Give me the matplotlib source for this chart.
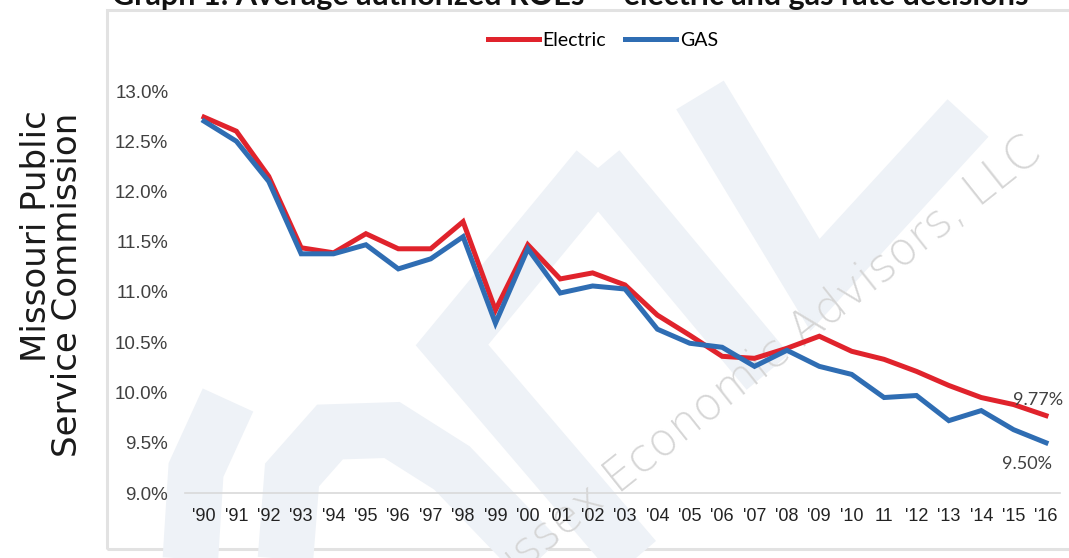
import matplotlib
matplotlib.use("Agg")
import matplotlib.pyplot as plt
from matplotlib.lines import Line2D
from matplotlib.patches import Rectangle

# Average authorized ROE by year, electric vs gas rate decisions
years = ["'90", "'91", "'92", "'93", "'94", "'95", "'96", "'97", "'98", "'99",
         "'00", "'01", "'02", "'03", "'04", "'05", "'06", "'07", "'08", "'09",
         "'10", "11", "'12", "'13", "'14", "'15", "'16"]
electric = [12.74, 12.60, 12.15, 11.44, 11.39, 11.58, 11.43, 11.43, 11.70, 10.82,
            11.47, 11.13, 11.19, 11.07, 10.77, 10.57, 10.36, 10.34, 10.44, 10.56,
            10.41, 10.33, 10.21, 10.07, 9.95, 9.88, 9.77]
gas = [12.70, 12.50, 12.10, 11.38, 11.38, 11.47, 11.23, 11.33, 11.55, 10.69,
       11.43, 10.99, 11.06, 11.03, 10.63, 10.49, 10.45, 10.26, 10.42, 10.26,
       10.18, 9.95, 9.97, 9.72, 9.82, 9.63, 9.50]
y_ticks = [9.0, 9.5, 10.0, 10.5, 11.0, 11.5, 12.0, 12.5, 13.0]

W, H = 1069, 558
RED = "#e0232c"
BLUE = "#2f6db3"
TXT = "#404040"


def px(x, y):
    # pixel position (from top-left) -> figure fraction
    return x / W, 1 - y / H


fig = plt.figure(figsize=(W / 100, H / 100), dpi=100)
fig.patch.set_facecolor("white")

# frame around the chart
fig.add_artist(Rectangle(px(107, 549), (W - 100) / W, 539 / H,
                         transform=fig.transFigure, fill=False,
                         edgecolor="#e2e2e2", lw=2.2, zorder=-3))

# faint logo watermark behind the plot
wm = "#eef2f7"
shapes = [
    [(700, 95), (815, 285), (968, 118)],
    [(598, 168), (452, 345), (640, 565)],
    [(598, 168), (768, 372)],
    [(285, 565), (292, 475), (330, 432), (392, 430), (452, 468), (545, 565)],
    [(228, 400), (196, 470), (190, 565)],
]
for pts in shapes:
    xs = [p[0] / W for p in pts]
    ys = [1 - p[1] / H for p in pts]
    fig.add_artist(Line2D(xs, ys, transform=fig.transFigure, color=wm,
                          lw=40, solid_joinstyle="miter",
                          solid_capstyle="butt", zorder=-2))

fig.text(*px(1036, 146), "Sussex Economic Advisors, LLC", rotation=38.5,
         rotation_mode="anchor", ha="right", va="center", fontsize=33,
         family="DejaVu Sans", fontweight="light", color="#d6d6d6", zorder=-1)

ax = fig.add_axes([185 / W, 1 - 493 / H, 875 / W, 402 / H])
ax.set_facecolor("none")

x = list(range(len(years)))
ax.plot(x, electric, color=RED, lw=3.6, solid_joinstyle="miter", label="Electric")
ax.plot(x, gas, color=BLUE, lw=3.6, solid_joinstyle="miter", label="GAS")

ax.set_xlim(-19 / 32.385, 26 + 14 / 32.385)
ax.set_ylim(9.0, 13.0)

ax.set_yticks(y_ticks)
ax.set_yticklabels([f"{v:.1f}%" for v in y_ticks])
ax.set_xticks(x)
ax.set_xticklabels(years)

for s in ["top", "right", "left"]:
    ax.spines[s].set_visible(False)
ax.spines["bottom"].set_color("#d9d9d9")
ax.spines["bottom"].set_linewidth(1.2)

ax.tick_params(axis="both", length=0)
ax.tick_params(axis="y", pad=12, labelsize=13.5, labelcolor=TXT)
ax.tick_params(axis="x", pad=11, labelsize=13, labelcolor="#222222")
for lab in ax.get_yticklabels():
    lab.set_family("Liberation Sans")
for lab in ax.get_xticklabels():
    lab.set_family(["Liberation Sans Narrow", "Liberation Sans"])

# end-of-series labels
ax.annotate(f"{electric[-1]:.2f}%", (x[-1], electric[-1]), xytext=(-6, 11),
            textcoords="offset points", ha="center", va="center",
            fontsize=13, family="Lato", color=TXT)
ax.annotate(f"{gas[-1]:.2f}%", (x[-1], gas[-1]), xytext=(-14, -15),
            textcoords="offset points", ha="center", va="center",
            fontsize=13, family="Lato", color=TXT)

fig.legend(handles=ax.get_lines(), labels=["Electric", "GAS"],
           loc="center", bbox_to_anchor=px(603, 40), ncol=2, frameon=False,
           prop={"family": "Lato", "size": 14}, handlelength=2.6,
           handletextpad=0.2, columnspacing=1.0)

# side caption
fig.text(*px(46, 110), "Missouri Public", rotation=90, rotation_mode="anchor",
         ha="right", va="baseline", fontsize=24.5, family="DejaVu Sans",
         color="#1a1a1a")
fig.text(*px(77, 113), "Service Commission", rotation=90, rotation_mode="anchor",
         ha="right", va="baseline", fontsize=24.5, family="DejaVu Sans",
         color="#1a1a1a")

# title, partly running off the top edge
fig.text(*px(570, 5), "Graph 1: Average authorized ROEs \u2014 electric and gas rate decisions",
         ha="center", va="baseline", fontsize=22, family="Lato",
         fontweight="bold", color="#111111")

fig.savefig("out.png", dpi=100)
